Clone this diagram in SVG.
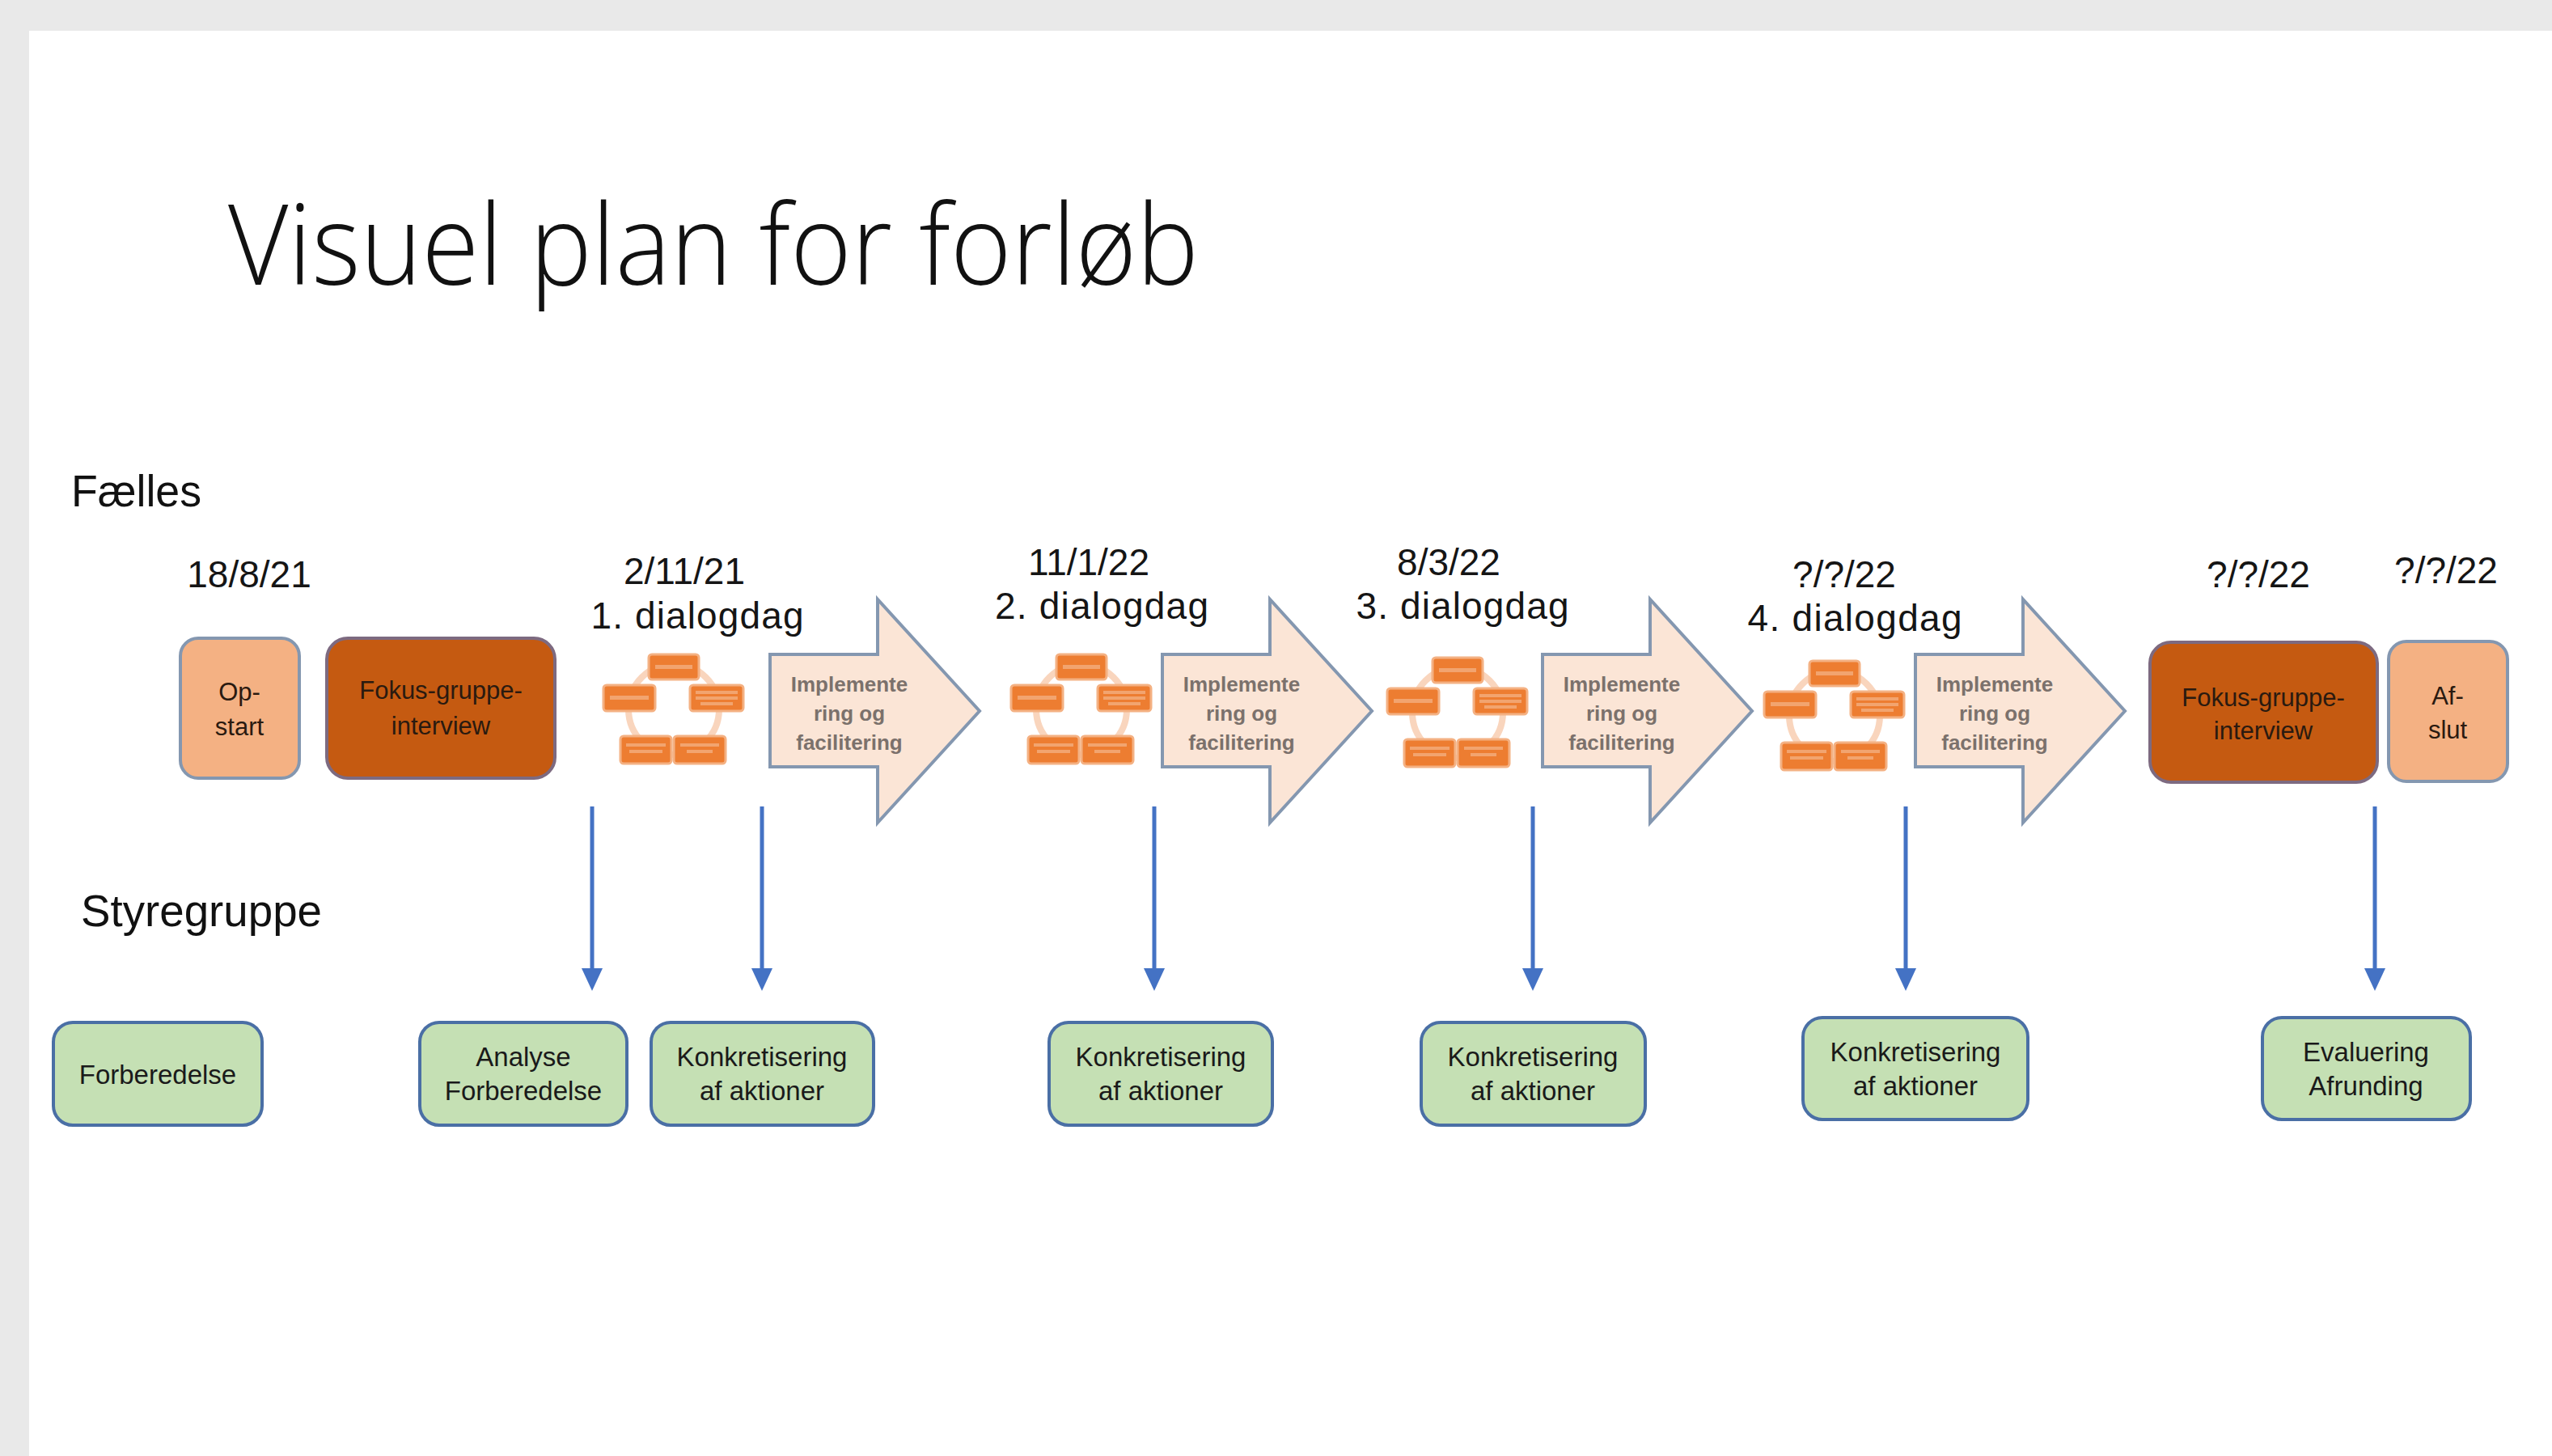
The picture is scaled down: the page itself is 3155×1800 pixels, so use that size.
<svg xmlns="http://www.w3.org/2000/svg" width="3155" height="1800" viewBox="0 0 3155 1800">
<style>
.gray{fill:#E9E9E9}
.title{font-family:"Open Sans","Liberation Sans",sans-serif;font-weight:300;font-size:138px;fill:#111}
.lane{font-family:"Liberation Sans",Arial,sans-serif;font-size:56px;fill:#111}
.date{font-family:"Liberation Sans",Arial,sans-serif;font-size:46px;fill:#151515;text-anchor:middle}
.tbox{font-family:"Liberation Sans",Arial,sans-serif;font-size:31px;fill:#2a1a10;text-anchor:middle}
.tarrow{font-family:"Liberation Sans",Arial,sans-serif;font-size:26px;font-weight:bold;fill:#7b716c;text-anchor:middle}
.tgreen{font-family:"Liberation Sans",Arial,sans-serif;font-size:33px;fill:#1a1a1a;text-anchor:middle}
.opbox{fill:#F4B183;stroke:#8497B0;stroke-width:4}
.fokbox{fill:#C55A11;stroke:#7d6a80;stroke-width:4}
.bigarrow{fill:#FBE5D6;stroke:#8497B0;stroke-width:4}
.green{fill:#C5E0B4;stroke:#4A6FA5;stroke-width:4}
.conn{stroke:#4472C4;stroke-width:5;fill:none}
.cyc{fill:none;stroke:#F8CBAD;stroke-opacity:0.8;stroke-width:8}
.cbox{fill:#ED7D31;stroke:#F4B183;stroke-width:3}
.cline{fill:#ffffff;fill-opacity:0.3}
</style>
<defs>
<marker id="ah" markerUnits="userSpaceOnUse" markerWidth="28" markerHeight="26" viewBox="0 0 28 26" refX="0" refY="13" orient="auto">
<path d="M0,0 L28,13 L0,26 Z" fill="#4472C4"/>
</marker>
<g id="cycle">
<circle class="cyc" cx="0" cy="0" r="56"/>
<rect class="cbox" x="-31" y="-68" width="62" height="31" rx="4"/>
<rect class="cline" x="-23" y="-55" width="46" height="5"/>
<rect class="cbox" x="-87" y="-30" width="64" height="32" rx="4"/>
<rect class="cline" x="-79" y="-17" width="48" height="5"/>
<rect class="cbox" x="20" y="-30" width="66" height="32" rx="4"/>
<rect class="cline" x="27" y="-23" width="52" height="4"/>
<rect class="cline" x="27" y="-16" width="52" height="4"/>
<rect class="cline" x="33" y="-9" width="40" height="4"/>
<rect class="cbox" x="-66" y="33" width="63" height="34" rx="4"/>
<rect class="cline" x="-59" y="42" width="49" height="4"/>
<rect class="cline" x="-55" y="50" width="41" height="4"/>
<rect class="cbox" x="0" y="33" width="64" height="34" rx="4"/>
<rect class="cline" x="8" y="42" width="48" height="4"/>
<rect class="cline" x="16" y="50" width="32" height="4"/>
</g>
<path id="bigarrow" class="bigarrow" d="M0,809 H133 V741 L259,879 L133,1017 V948 H0 Z"/>
</defs>

<rect x="0" y="0" width="3155" height="1800" fill="#ffffff"/>
<rect class="gray" x="0" y="0" width="3155" height="38"/>
<rect class="gray" x="0" y="0" width="36" height="1800"/>

<text class="title" x="282" y="352" textLength="1200" lengthAdjust="spacingAndGlyphs">Visuel plan for forløb</text>
<text class="lane" x="88" y="626" textLength="161" lengthAdjust="spacingAndGlyphs">Fælles</text>
<text class="lane" x="100" y="1145" textLength="298" lengthAdjust="spacingAndGlyphs">Styregruppe</text>

<g id="dates">
<text class="date" x="308" y="726">18/8/21</text>
<text class="date" x="846" y="722">2/11/21</text>
<text class="date" x="862" y="777" textLength="263">1. dialogdag</text>
<text class="date" x="1346" y="711">11/1/22</text>
<text class="date" x="1362" y="765" textLength="264">2. dialogdag</text>
<text class="date" x="1791" y="711">8/3/22</text>
<text class="date" x="1808" y="765" textLength="263">3. dialogdag</text>
<text class="date" x="2280" y="726">?/?/22</text>
<text class="date" x="2293" y="780" textLength="265">4. dialogdag</text>
<text class="date" x="2792" y="726">?/?/22</text>
<text class="date" x="3024" y="721">?/?/22</text>
</g>

<g id="opstart">
<rect class="opbox" x="223" y="789" width="147" height="173" rx="22"/>
<text class="tbox" x="296" y="866">Op-</text>
<text class="tbox" x="296" y="909">start</text>
</g>
<g id="fokus1">
<rect class="fokbox" x="404" y="789" width="282" height="173" rx="26"/>
<text class="tbox" x="545" y="864">Fokus-gruppe-</text>
<text class="tbox" x="545" y="908">interview</text>
</g>

<g id="cycle1"><use href="#cycle" transform="translate(833,877)"/></g>
<g id="cycle2"><use href="#cycle" transform="translate(1337,877)"/></g>
<g id="cycle3"><use href="#cycle" transform="translate(1802,881)"/></g>
<g id="cycle4"><use href="#cycle" transform="translate(2268,885)"/></g>

<g id="impl1">
<use href="#bigarrow" transform="translate(952,0)"/>
<text class="tarrow" x="1050" y="855">Implemente</text>
<text class="tarrow" x="1050" y="891">ring og</text>
<text class="tarrow" x="1050" y="927">facilitering</text>
</g>
<g id="impl2">
<use href="#bigarrow" transform="translate(1437,0)"/>
<text class="tarrow" x="1535" y="855">Implemente</text>
<text class="tarrow" x="1535" y="891">ring og</text>
<text class="tarrow" x="1535" y="927">facilitering</text>
</g>
<g id="impl3">
<use href="#bigarrow" transform="translate(1907,0)"/>
<text class="tarrow" x="2005" y="855">Implemente</text>
<text class="tarrow" x="2005" y="891">ring og</text>
<text class="tarrow" x="2005" y="927">facilitering</text>
</g>
<g id="impl4">
<use href="#bigarrow" transform="translate(2368,0)"/>
<text class="tarrow" x="2466" y="855">Implemente</text>
<text class="tarrow" x="2466" y="891">ring og</text>
<text class="tarrow" x="2466" y="927">facilitering</text>
</g>

<g id="fokus2">
<rect class="fokbox" x="2658" y="794" width="281" height="173" rx="26"/>
<text class="tbox" x="2798" y="873">Fokus-gruppe-</text>
<text class="tbox" x="2798" y="914">interview</text>
</g>
<g id="afslut">
<rect class="opbox" x="2953" y="793" width="147" height="173" rx="22"/>
<text class="tbox" x="3026" y="871">Af-</text>
<text class="tbox" x="3026" y="913">slut</text>
</g>

<g id="connectors">
<line class="conn" x1="732" y1="997" x2="732" y2="1197" marker-end="url(#ah)"/>
<line class="conn" x1="942" y1="997" x2="942" y2="1197" marker-end="url(#ah)"/>
<line class="conn" x1="1427" y1="997" x2="1427" y2="1197" marker-end="url(#ah)"/>
<line class="conn" x1="1895" y1="997" x2="1895" y2="1197" marker-end="url(#ah)"/>
<line class="conn" x1="2356" y1="997" x2="2356" y2="1197" marker-end="url(#ah)"/>
<line class="conn" x1="2936" y1="997" x2="2936" y2="1197" marker-end="url(#ah)"/>
</g>

<g id="forberedelse">
<rect class="green" x="66" y="1264" width="258" height="127" rx="24"/>
<text class="tgreen" x="195" y="1340">Forberedelse</text>
</g>
<g id="analyse">
<rect class="green" x="519" y="1264" width="256" height="127" rx="24"/>
<text class="tgreen" x="647" y="1318">Analyse</text>
<text class="tgreen" x="647" y="1360">Forberedelse</text>
</g>
<g id="konk1">
<rect class="green" x="805" y="1264" width="275" height="127" rx="24"/>
<text class="tgreen" x="942" y="1318">Konkretisering</text>
<text class="tgreen" x="942" y="1360">af aktioner</text>
</g>
<g id="konk2">
<rect class="green" x="1297" y="1264" width="276" height="127" rx="24"/>
<text class="tgreen" x="1435" y="1318">Konkretisering</text>
<text class="tgreen" x="1435" y="1360">af aktioner</text>
</g>
<g id="konk3">
<rect class="green" x="1757" y="1264" width="277" height="127" rx="24"/>
<text class="tgreen" x="1895" y="1318">Konkretisering</text>
<text class="tgreen" x="1895" y="1360">af aktioner</text>
</g>
<g id="konk4">
<rect class="green" x="2229" y="1258" width="278" height="126" rx="24"/>
<text class="tgreen" x="2368" y="1312">Konkretisering</text>
<text class="tgreen" x="2368" y="1354">af aktioner</text>
</g>
<g id="evaluering">
<rect class="green" x="2797" y="1258" width="257" height="126" rx="24"/>
<text class="tgreen" x="2925" y="1312">Evaluering</text>
<text class="tgreen" x="2925" y="1354">Afrunding</text>
</g>
</svg>
